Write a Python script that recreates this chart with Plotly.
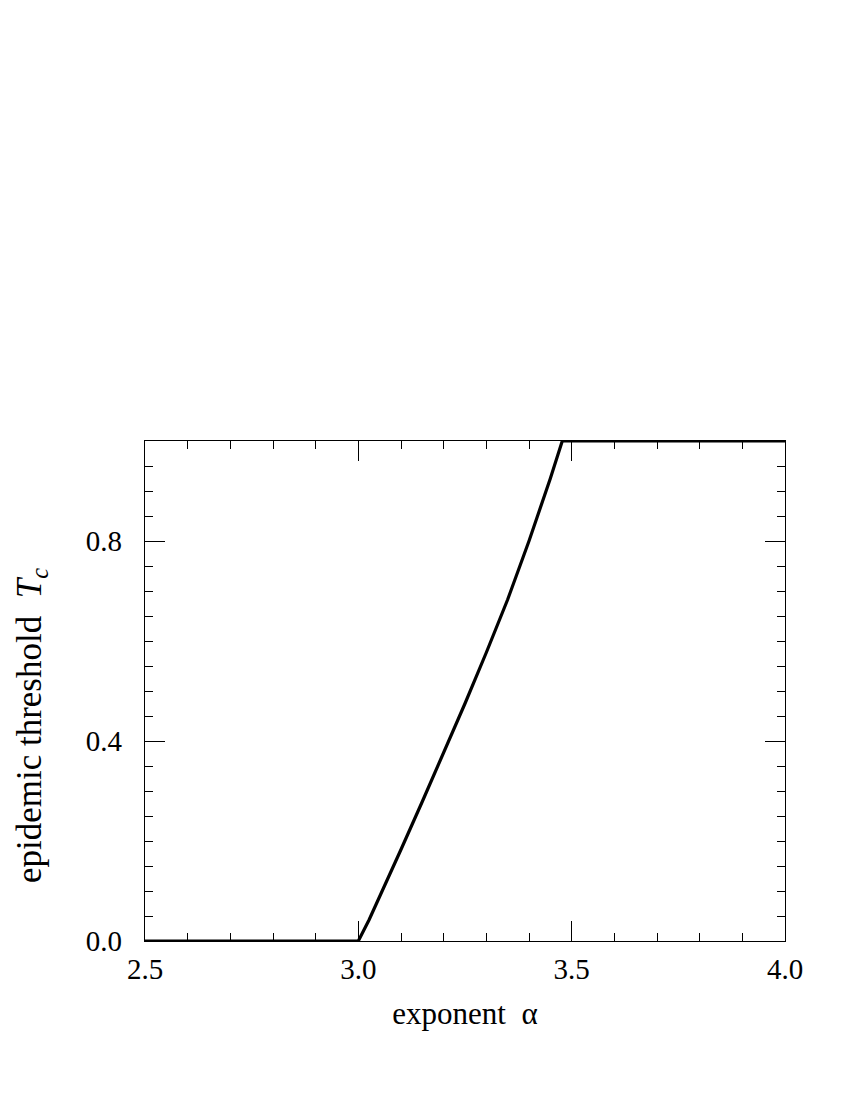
import plotly.graph_objects as go

alpha = [2.5, 3.0, 3.025, 3.05, 3.10, 3.15, 3.20, 3.25, 3.30, 3.35, 3.40, 3.45, 3.478, 4.0]
tc = [0.0, 0.0, 0.042, 0.088, 0.183, 0.279, 0.376, 0.475, 0.577, 0.683, 0.80, 0.925, 1.0, 1.0]

xticks = [2.5, 3.0, 3.5, 4.0]
xticklabels = ["2.5", "3.0", "3.5", "4.0"]
yticks = [0.0, 0.4, 0.8]
yticklabels = ["0.0", "0.4", "0.8"]

FONT = "Liberation Serif"

fig = go.Figure()
fig.add_trace(go.Scatter(x=alpha, y=tc, mode="lines",
                         line=dict(color="black", width=3.2),
                         showlegend=False, cliponaxis=False))

axis_common = dict(
    showgrid=False, zeroline=False, showline=True, linecolor="black", linewidth=1.2,
    mirror="allticks", ticks="inside", ticklen=20, tickwidth=1.2, tickcolor="black",
    tickfont=dict(family=FONT, size=29, color="black"),
)

fig.update_xaxes(range=[2.5, 4.0], tickvals=xticks, ticktext=xticklabels,
                 minor=dict(dtick=0.1, tick0=2.5, ticks="inside", ticklen=8, tickwidth=1.2, tickcolor="black"),
                 title=dict(text="exponent  α", font=dict(family=FONT, size=31, color="black"), standoff=18),
                 ticklabelstandoff=2,
                 **axis_common)
fig.update_yaxes(range=[0, 1.0], tickvals=yticks, ticktext=yticklabels,
                 minor=dict(dtick=0.05, tick0=0, ticks="inside", ticklen=8, tickwidth=1.2, tickcolor="black"),
                 ticklabelstandoff=16,
                 **axis_common)

fig.add_annotation(text="epidemic threshold  <i>T<sub>c</sub></i>", textangle=-90,
                   xref="paper", yref="paper", x=-0.178, y=0.43,
                   xanchor="center", yanchor="middle", showarrow=False,
                   font=dict(family=FONT, size=35, color="black"))

fig.update_layout(width=850, height=1100, plot_bgcolor="white", paper_bgcolor="white",
                  margin=dict(l=137, r=73, t=433, b=167, autoexpand=False))

fig.write_html("out.html")
